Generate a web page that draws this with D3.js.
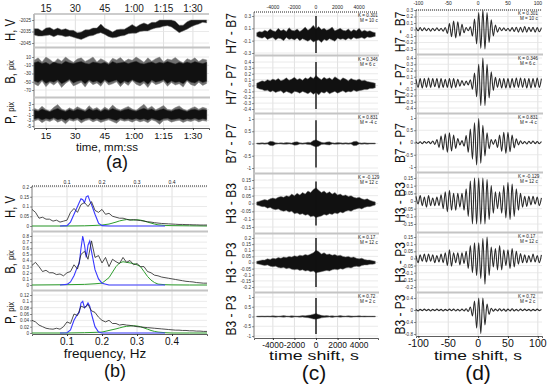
<!DOCTYPE html>
<html>
<head>
<meta charset="utf-8">
<script src="https://cdn.jsdelivr.net/npm/d3@7/dist/d3.min.js"></script>
<style>
  body { margin: 0; background: #fff; }
  svg { font-family: "Liberation Sans", Arial, sans-serif; }
</style>
</head>
<body>
<svg id="fig" width="550" height="386"></svg>
<script>
// ---------- (a) time series, envelopes read every 2 s ----------
var aTime = [9,11,13,15,17,19,21,23,25,27,29,31,33,35,37,39,41,43,45,47,49,51,53,55,57,59,61,63,65,67,69,71,73,75,77,79,81,83,85,87,89,91,93,95,97];
var hHi = [-2032.5,-2032.5,-2034.5,-2032,-2031.5,-2033.5,-2032,-2033.5,-2032.5,-2034,-2034,-2036,-2035.5,-2033.5,-2033.5,-2032,-2032,-2028.5,-2032,-2033.5,-2035.5,-2033.5,-2033,-2033,-2031,-2029,-2031,-2029,-2027.5,-2029,-2027,-2027,-2025,-2024.5,-2024,-2024.5,-2026,-2029.5,-2029.5,-2026.5,-2025,-2024,-2022,-2022,-2021];
var hLo = [-2038,-2039,-2039,-2038.5,-2038,-2039.5,-2038,-2038.5,-2039.5,-2039,-2040,-2041,-2042,-2040.5,-2039,-2038.5,-2037,-2036,-2037.5,-2039.5,-2040.5,-2040,-2039,-2038.5,-2037,-2036.5,-2036.5,-2035,-2034.5,-2034.5,-2033,-2032,-2031.5,-2030.5,-2030,-2031,-2033.5,-2036,-2034.5,-2033,-2031,-2029.5,-2028.5,-2027,-2027.5];
var bHi = [2,8,-2,10,4,-4,6,0,12,3,-3,5,8,-1,4,10,-2,6,1,-5,7,3,9,-1,5,2,12,4,-3,8,0,6,10,-2,5,3,9,1,-4,6,2,8,-1,5,3];
var bLo = [-55,-60,-48,-62,-52,-58,-50,-64,-54,-47,-60,-56,-51,-63,-49,-57,-53,-61,-48,-58,-55,-50,-62,-52,-59,-47,-56,-60,-53,-64,-50,-57,-54,-49,-61,-52,-58,-55,-63,-48,-57,-60,-51,-59,-54];
var bCoreHi = [-4,-1,-6,-3,-8,-2,-5,-7,0,-4,-6,-3,-1,-5,-7,-2,-4,-6,-3,-8,-1,-5,-4,-2,-6,-3,0,-5,-7,-4,-2,-6,-3,-5,-1,-4,-7,-3,-6,-2,-5,-1,-4,-6,-3];
var bCoreLo = [-48,-52,-45,-54,-49,-51,-46,-55,-50,-44,-53,-49,-47,-55,-46,-51,-48,-54,-45,-52,-49,-46,-55,-48,-52,-45,-50,-53,-48,-56,-46,-51,-49,-45,-54,-48,-52,-50,-55,-46,-51,-53,-47,-52,-49];
var pHi = [1.5,0.8,2.2,1,0.5,1.8,2.8,1.2,0.6,1.6,0.9,2,1.3,0.7,2.4,1.1,1.7,0.6,1.9,1,2.6,1.4,0.8,1.5,2.1,1.2,0.7,1.8,2.9,1.3,2.2,0.9,1.6,2.5,1.1,0.8,1.7,2.3,1.2,0.6,1.5,2,1.1,1.8,1.4];
var pLo = [-3.2,-2.6,-3.8,-2.9,-3.4,-2.5,-3.6,-3,-4.2,-2.8,-3.3,-2.7,-3.9,-3.1,-2.6,-3.5,-2.9,-3.7,-3.2,-2.7,-3.4,-4,-2.8,-3.3,-3,-3.6,-2.9,-3.5,-3.1,-3.8,-2.7,-3.3,-4.4,-3,-2.8,-3.6,-3.2,-2.9,-3.7,-3.1,-3.4,-2.8,-3.5,-3,-3.3];
var pCoreHi = [0.8,0.4,1.2,0.6,0.2,0.9,1.4,0.7,0.3,1,0.5,1.1,0.8,0.3,1.3,0.6,1,0.3,1.1,0.6,1.4,0.8,0.4,0.9,1.2,0.7,0.4,1,1.5,0.8,1.2,0.5,0.9,1.3,0.6,0.4,1,1.2,0.7,0.3,0.9,1.1,0.6,1,0.8];
var pCoreLo = [-2.5,-2.1,-2.8,-2.3,-2.6,-2,-2.7,-2.4,-3,-2.2,-2.6,-2.1,-2.9,-2.4,-2.1,-2.7,-2.3,-2.8,-2.5,-2.2,-2.6,-3,-2.2,-2.6,-2.4,-2.7,-2.3,-2.7,-2.4,-2.9,-2.2,-2.6,-3.1,-2.4,-2.2,-2.7,-2.5,-2.3,-2.8,-2.4,-2.6,-2.2,-2.7,-2.4,-2.6];
var aTickVals = [15,30,45,60,75,90];
var aTickLabels = ["15","30","45","1:00","1:15","1:30"];
var aTicksH = [-2025,-2035,-2045];
var aTicksB = [10,-10,-30,-50,-70];
var aTicksP = [3,1,-1,-3,-5];

// ---------- (b) spectra ----------
var fGrid = [0,0.01,0.02,0.03,0.04,0.05,0.06,0.07,0.08,0.09,0.1,0.11,0.12,0.13,0.14,0.15,0.16,0.17,0.18,0.19,0.2,0.21,0.22,0.23,0.24,0.25,0.26,0.27,0.28,0.29,0.3,0.31,0.32,0.33,0.34,0.35,0.36,0.37,0.38,0.39,0.4,0.41,0.42,0.43,0.44,0.45,0.46,0.47,0.48,0.49,0.5];
var specH = [0.085,0.07,0.04,0.045,0.035,0.035,0.025,0.03,0.02,0.025,0.03,0.07,0.09,0.07,0.11,0.12,0.1,0.125,0.08,0.07,0.085,0.06,0.065,0.05,0.045,0.04,0.04,0.035,0.03,0.033,0.03,0.028,0.025,0.022,0.02,0.017,0.015,0.013,0.012,0.011,0.01,0.009,0.008,0.008,0.007,0.007,0.006,0.006,0.005,0.005,0.005];
var specB = [0.32,0.37,0.3,0.22,0.24,0.2,0.2,0.17,0.18,0.15,0.2,0.22,0.33,0.26,0.5,0.55,0.42,0.72,0.45,0.48,0.36,0.45,0.3,0.42,0.38,0.35,0.45,0.37,0.4,0.33,0.35,0.3,0.3,0.22,0.2,0.16,0.15,0.13,0.12,0.11,0.1,0.09,0.08,0.07,0.06,0.055,0.05,0.04,0.035,0.03,0.03];
var specP = [0.04,0.035,0.025,0.02,0.015,0.013,0.012,0.015,0.012,0.02,0.035,0.03,0.06,0.055,0.085,0.08,0.09,0.07,0.065,0.05,0.04,0.035,0.04,0.03,0.03,0.025,0.027,0.025,0.024,0.022,0.02,0.019,0.018,0.017,0.016,0.015,0.014,0.013,0.012,0.011,0.01,0.009,0.009,0.008,0.008,0.007,0.007,0.006,0.006,0.005,0.005];
var fBlue = [0.08,0.1,0.11,0.12,0.13,0.135,0.14,0.145,0.15,0.155,0.16,0.165,0.17,0.18,0.19,0.2,0.22,0.3,0.38];
var blueH = [0,0.002,0.02,0.06,0.1,0.12,0.14,0.135,0.12,0.15,0.155,0.13,0.11,0.06,0.015,0.002,0,0,0];
var blueB = [0,0.01,0.05,0.15,0.3,0.35,0.6,0.8,0.65,0.45,0.65,0.72,0.55,0.25,0.1,0.03,0,0,0];
var blueP = [0,0.001,0.01,0.04,0.06,0.065,0.095,0.1,0.08,0.085,0.095,0.085,0.06,0.02,0.003,0,0,0,0];
var fGreen = [0,0.1,0.15,0.18,0.2,0.22,0.24,0.25,0.26,0.27,0.28,0.29,0.3,0.31,0.32,0.33,0.34,0.35,0.36,0.38,0.4,0.45,0.5];
var greenH = [0,0,0.001,0.003,0.005,0.01,0.02,0.026,0.03,0.033,0.032,0.03,0.032,0.03,0.026,0.02,0.015,0.01,0.006,0.003,0.002,0.001,0];
var greenB = [0,0.005,0.01,0.02,0.03,0.12,0.3,0.36,0.38,0.37,0.36,0.35,0.33,0.3,0.22,0.14,0.08,0.04,0.015,0.005,0.002,0,0];
var greenP = [0,0,0.001,0.002,0.003,0.008,0.013,0.016,0.019,0.021,0.022,0.023,0.022,0.02,0.016,0.012,0.008,0.005,0.003,0.001,0,0,0];
var bTickVals = [0.1,0.2,0.3,0.4];
var bTicksH = [0,0.05,0.1,0.15,0.2];
var bTicksB = [0,0.1,0.2,0.3,0.4,0.5,0.6,0.7,0.8];
var bTicksP = [0,0.02,0.04,0.06,0.08,0.1,0.12];

// ---------- (c) long-lag cross-correlations, envelopes every 250 s ----------
var cTime = [-5500,-5250,-5000,-4750,-4500,-4250,-4000,-3750,-3500,-3250,-3000,-2750,-2500,-2250,-2000,-1750,-1500,-1250,-1000,-750,-500,-250,0,250,500,750,1000,1250,1500,1750,2000,2250,2500,2750,3000,3250,3500,3750,4000,4250,4500,4750,5000,5250,5500];
var c1Hi = [0.03,0.05,0.04,0.07,0.05,0.09,0.06,0.05,0.1,0.06,0.08,0.05,0.11,0.07,0.06,0.09,0.05,0.08,0.12,0.07,0.1,0.15,0.09,0.13,0.08,0.1,0.07,0.09,0.12,0.06,0.08,0.1,0.07,0.06,0.09,0.05,0.08,0.06,0.1,0.05,0.07,0.05,0.06,0.04,0.03];
var c1Lo = [-0.03,-0.05,-0.06,-0.04,-0.08,-0.06,-0.05,-0.09,-0.06,-0.07,-0.1,-0.05,-0.08,-0.07,-0.09,-0.06,-0.1,-0.07,-0.09,-0.11,-0.08,-0.12,-0.1,-0.09,-0.13,-0.08,-0.1,-0.07,-0.09,-0.11,-0.06,-0.08,-0.07,-0.09,-0.06,-0.08,-0.05,-0.07,-0.06,-0.05,-0.07,-0.04,-0.05,-0.04,-0.03];
var c2Hi = [0.04,0.06,0.08,0.07,0.1,0.08,0.11,0.09,0.12,0.08,0.1,0.13,0.09,0.11,0.14,0.1,0.12,0.09,0.13,0.11,0.15,0.12,0.17,0.13,0.1,0.14,0.11,0.13,0.1,0.15,0.12,0.09,0.13,0.11,0.08,0.12,0.1,0.09,0.11,0.08,0.09,0.07,0.06,0.05,0.04];
var c2Lo = [-0.04,-0.06,-0.07,-0.09,-0.08,-0.11,-0.09,-0.12,-0.1,-0.09,-0.13,-0.1,-0.12,-0.14,-0.1,-0.11,-0.13,-0.1,-0.12,-0.14,-0.11,-0.15,-0.12,-0.16,-0.11,-0.13,-0.1,-0.14,-0.12,-0.1,-0.13,-0.11,-0.09,-0.12,-0.1,-0.11,-0.08,-0.1,-0.09,-0.08,-0.07,-0.07,-0.05,-0.05,-0.04];
var c3Hi = [0.02,0.02,0.03,0.02,0.03,0.09,0.08,0.03,0.02,0.03,0.02,0.04,0.03,0.02,0.06,0.07,0.03,0.02,0.03,0.05,0.04,0.12,0.15,0.1,0.05,0.03,0.06,0.07,0.03,0.02,0.04,0.03,0.02,0.03,0.02,0.03,0.08,0.09,0.03,0.02,0.03,0.02,0.02,0.02,0.02];
var c3Lo = [-0.02,-0.03,-0.02,-0.03,-0.02,-0.08,-0.09,-0.03,-0.02,-0.02,-0.03,-0.03,-0.02,-0.03,-0.07,-0.06,-0.02,-0.03,-0.02,-0.04,-0.05,-0.1,-0.14,-0.11,-0.04,-0.03,-0.05,-0.06,-0.02,-0.03,-0.03,-0.02,-0.03,-0.02,-0.03,-0.02,-0.09,-0.08,-0.02,-0.03,-0.02,-0.03,-0.02,-0.02,-0.02];
var c4Hi = [0.01,0.015,0.02,0.025,0.02,0.03,0.035,0.03,0.04,0.045,0.04,0.05,0.045,0.06,0.05,0.065,0.055,0.07,0.06,0.08,0.07,0.09,0.1,0.085,0.07,0.08,0.065,0.075,0.06,0.07,0.055,0.06,0.05,0.055,0.045,0.05,0.04,0.035,0.04,0.03,0.025,0.03,0.02,0.015,0.01];
var c4Lo = [-0.01,-0.015,-0.02,-0.02,-0.03,-0.025,-0.035,-0.04,-0.035,-0.045,-0.05,-0.045,-0.055,-0.05,-0.065,-0.06,-0.07,-0.065,-0.075,-0.07,-0.085,-0.08,-0.09,-0.085,-0.08,-0.07,-0.075,-0.065,-0.07,-0.06,-0.065,-0.055,-0.06,-0.05,-0.045,-0.05,-0.04,-0.035,-0.03,-0.035,-0.025,-0.02,-0.02,-0.015,-0.01];
var c5Hi = [0.01,0.015,0.02,0.02,0.03,0.025,0.035,0.03,0.04,0.035,0.045,0.04,0.05,0.045,0.055,0.05,0.06,0.055,0.065,0.06,0.07,0.08,0.1,0.09,0.07,0.08,0.065,0.07,0.06,0.065,0.055,0.06,0.05,0.045,0.05,0.04,0.045,0.035,0.03,0.035,0.025,0.02,0.02,0.015,0.01];
var c5Lo = [-0.01,-0.015,-0.02,-0.025,-0.02,-0.03,-0.035,-0.03,-0.04,-0.045,-0.04,-0.05,-0.045,-0.055,-0.06,-0.055,-0.065,-0.06,-0.07,-0.065,-0.075,-0.07,-0.085,-0.08,-0.075,-0.07,-0.065,-0.07,-0.06,-0.055,-0.06,-0.05,-0.055,-0.045,-0.04,-0.045,-0.035,-0.03,-0.035,-0.025,-0.02,-0.02,-0.015,-0.015,-0.01];
var c6Hi = [0.02,0.02,0.03,0.02,0.03,0.02,0.04,0.03,0.02,0.03,0.05,0.03,0.02,0.04,0.03,0.02,0.03,0.05,0.04,0.06,0.08,0.12,0.15,0.1,0.06,0.04,0.05,0.03,0.04,0.02,0.03,0.05,0.03,0.02,0.04,0.03,0.02,0.03,0.04,0.02,0.03,0.02,0.02,0.02,0.02];
var c6Lo = [-0.02,-0.03,-0.02,-0.03,-0.02,-0.03,-0.03,-0.04,-0.02,-0.03,-0.04,-0.02,-0.03,-0.05,-0.02,-0.03,-0.04,-0.03,-0.05,-0.06,-0.09,-0.13,-0.14,-0.11,-0.07,-0.05,-0.04,-0.03,-0.05,-0.03,-0.02,-0.04,-0.03,-0.02,-0.03,-0.04,-0.03,-0.02,-0.03,-0.02,-0.03,-0.02,-0.02,-0.02,-0.02];
var cPeakHi = [0.4,0.42,0.95,0.14,0.2,0.95];   // zero-lag spike
var cPeakLo = [-0.32,-0.41,-0.98,-0.14,-0.2,-0.9];
var cTickVals = [-4000,-2000,0,2000,4000];

// ---------- (d) short-lag cross-correlations, extremes every half period ----------
var dTime = [-104,-100.5,-97,-93.5,-90,-86.5,-83,-79.5,-76,-72.5,-69,-65.5,-62,-58.5,-55,-51.5,-48,-44.5,-41,-37.5,-34,-30.5,-27,-23.5,-20,-16.5,-13,-9.5,-6,-2.5,1,4.5,8,11.5,15,18.5,22,25.5,29,32.5,36,39.5,43,46.5,50,53.5,57,60.5,64,67.5,71,74.5,78,81.5,85,88.5,92,95.5,99,102.5,106];
var d1 = [0.03,-0.02,0.03,-0.02,0.025,-0.02,0.02,-0.025,0.02,-0.02,0.025,-0.02,0.02,-0.025,0.03,-0.06,0.09,-0.11,0.13,-0.13,0.12,-0.1,0.08,-0.05,0.03,-0.02,0.04,-0.1,0.16,-0.22,0.26,-0.29,0.3,-0.3,0.26,-0.2,0.15,-0.1,0.07,-0.04,0.03,-0.02,0.025,-0.02,0.02,-0.025,0.03,-0.03,0.035,-0.04,0.035,-0.04,0.045,-0.04,0.035,-0.03,0.035,-0.04,0.03,-0.035,0.03];
var d2 = [0.06,-0.07,0.07,-0.08,0.07,-0.07,0.08,-0.07,0.07,-0.06,0.07,-0.08,0.07,-0.07,0.06,-0.07,0.07,-0.08,0.07,-0.07,0.06,-0.05,0.04,-0.04,0.03,-0.03,0.05,-0.1,0.16,-0.22,0.3,-0.36,0.4,-0.36,0.3,-0.24,0.18,-0.12,0.09,-0.07,0.07,-0.08,0.07,-0.08,0.07,-0.08,0.07,-0.07,0.08,-0.07,0.08,-0.07,0.07,-0.08,0.07,-0.08,0.07,-0.07,0.08,-0.07,0.07];
var d3v = [0.03,-0.04,0.03,-0.05,0.04,-0.03,0.04,-0.05,0.06,-0.08,0.12,-0.2,0.26,-0.3,0.36,-0.4,0.4,-0.35,0.3,-0.24,0.16,-0.1,0.08,-0.15,0.28,-0.4,0.55,-0.68,0.8,-0.92,0.98,-0.85,0.7,-0.55,0.4,-0.25,0.12,-0.08,0.12,-0.2,0.3,-0.36,0.42,-0.45,0.42,-0.38,0.3,-0.22,0.15,-0.1,0.07,-0.05,0.04,-0.06,0.05,-0.04,0.06,-0.05,0.04,-0.05,0.04];
var d4 = [0.03,-0.02,0.035,-0.03,0.025,-0.04,0.035,-0.03,0.02,-0.03,0.025,-0.03,0.04,-0.05,0.06,-0.07,0.07,-0.06,0.05,-0.06,0.05,-0.04,0.05,-0.06,0.08,-0.1,0.13,-0.15,0.16,-0.16,0.15,-0.16,0.17,-0.16,0.14,-0.12,0.1,-0.08,0.06,-0.05,0.06,-0.08,0.1,-0.11,0.12,-0.12,0.11,-0.1,0.08,-0.06,0.05,-0.04,0.03,-0.035,0.03,-0.025,0.03,-0.02,0.025,-0.03,0.02];
var d5 = [0.02,-0.03,0.025,-0.02,0.03,-0.025,0.03,-0.02,0.025,-0.03,0.02,-0.025,0.03,-0.03,0.04,-0.05,0.06,-0.055,0.04,-0.03,0.04,-0.045,0.04,-0.035,0.05,-0.07,0.09,-0.1,0.11,-0.12,0.11,-0.14,0.14,-0.18,0.15,-0.12,0.08,-0.06,0.07,-0.08,0.09,-0.08,0.06,-0.05,0.06,-0.07,0.07,-0.06,0.05,-0.04,0.035,-0.03,0.025,-0.03,0.02,-0.025,0.03,-0.025,0.02,-0.03,0.025];
var d6 = [0.02,-0.03,0.02,-0.02,0.03,-0.02,0.02,-0.03,0.02,-0.02,0.03,-0.02,0.02,-0.03,0.02,-0.02,0.03,-0.02,0.03,-0.03,0.02,-0.03,0.03,-0.03,0.04,-0.05,0.1,-0.2,0.3,-0.6,0.46,-0.78,0.42,-0.5,0.2,-0.15,0.06,-0.04,0.03,-0.03,0.04,-0.03,0.03,-0.04,0.03,-0.03,0.04,-0.03,0.02,-0.03,0.03,-0.02,0.03,-0.02,0.02,-0.03,0.02,-0.02,0.03,-0.02,0.02];
var dTickVals = [-100,-50,0,50,100];

var pairNames = ["H7 - B7","H7 - P7","B7 - P7","H3 - B3","H3 - P3","B3 - P3"];
var kVals = ["0.301","0.346","0.831","-0.129","0.17","0.72"];
var mVals = ["10","6","-4","12","12","2"];
var corrTicks = [
  [0.3,0.1,-0.1,-0.3],
  [0.4,0.3,0.2,0.1,0,-0.1,-0.2,-0.3,-0.4],
  [1,0.5,0,-0.5,-1],
  [0.15,0.1,0.05,0,-0.05,-0.1,-0.15],
  [0.2,0.15,0.1,0.05,0,-0.05,-0.1,-0.15,-0.2],
  [1,0.5,0,-0.5,-1]
];
var dTicks = [
  [0.3,0.2,0.1,0,-0.1,-0.2,-0.3],
  [0.4,0.3,0.2,0.1,0,-0.1,-0.2,-0.3,-0.4],
  [1,0.5,0,-0.5,-1],
  [0.15,0.1,0.05,0,-0.05,-0.1,-0.15],
  [0.15,0.1,0.05,0,-0.05,-0.1,-0.15,-0.2],
  [0.4,0,-0.4,-0.8]
];

// ---------- drawing ----------
var svg = d3.select("#fig");

var xA = d3.scaleLinear().domain([8.9, 98.2]).range([34, 209]);
var xB = d3.scaleLinear().domain([0, 0.5]).range([32, 207]);
var xC = d3.scaleLinear().domain([-5750, 5750]).range([254, 378]);
var xD = d3.scaleLinear().domain([-104, 107]).range([416, 542]);

function panel(x, xTicks, top, bottom, yDom, yRng, yTicks) {
  var y = d3.scaleLinear().domain(yDom).range(yRng).clamp(true);
  var x0 = x.range()[0], x1 = x.range()[1];
  var g = svg.append("g");
  g.selectAll(".vg").data(xTicks).enter().append("line")
    .attr("x1", d => x(d)).attr("x2", d => x(d))
    .attr("y1", top).attr("y2", bottom)
    .attr("stroke", "#d8d8d8").attr("stroke-width", 0.8);
  g.selectAll(".hg").data(yTicks).enter().append("line")
    .attr("x1", x0).attr("x2", x1)
    .attr("y1", d => y(d)).attr("y2", d => y(d))
    .attr("stroke", "#e4e4e4").attr("stroke-width", 0.8);
  var ax = g.append("g").attr("transform", "translate(" + x0 + ",0)")
    .call(d3.axisLeft(y).tickValues(yTicks).tickSize(2).tickPadding(1).tickFormat(d => String(d)));
  ax.select(".domain").remove();
  ax.selectAll("text").attr("font-size", 4.6).attr("fill", "#333").attr("font-family", null);
  ax.selectAll("line").attr("stroke", "#444").attr("stroke-width", 0.6);
  g.append("line").attr("x1", x0).attr("x2", x0).attr("y1", top).attr("y2", bottom)
    .attr("stroke", "#444").attr("stroke-width", 0.7);
  return y;
}

function separator(x, yy) {
  svg.append("line").attr("x1", x.range()[0] - 1).attr("x2", x.range()[1] + 1)
    .attr("y1", yy).attr("y2", yy).attr("stroke", "#c4c4c4").attr("stroke-width", 2);
}

function band(x, y, t, lo, hi, fill, edge) {
  var pts = t.map((d, i) => ({ t: d, lo: lo[i], hi: hi[i] }));
  svg.append("path").datum(pts)
    .attr("d", d3.area().x(d => x(d.t)).y0(d => y(d.lo)).y1(d => y(d.hi)))
    .attr("fill", fill).attr("stroke", edge).attr("stroke-width", 0.5);
}

function trace(x, y, t, v, color, w, curve) {
  var pts = t.map((d, i) => ({ t: d, v: v[i] }));
  svg.append("path").datum(pts)
    .attr("d", d3.line().x(d => x(d.t)).y(d => y(d.v)).curve(curve || d3.curveLinear))
    .attr("fill", "none").attr("stroke", color).attr("stroke-width", w);
}

function sideLabel(cx, cy, main, sub, size, squeeze) {
  var t = svg.append("text")
    .attr("transform", "translate(" + cx + "," + cy + ") rotate(-90) scale(" + squeeze + ",1)")
    .attr("text-anchor", "middle").attr("dominant-baseline", "central")
    .attr("font-size", size).attr("fill", "#111");
  t.append("tspan").text(main);
  if (sub) t.append("tspan").attr("font-size", size * 0.68).text(sub);
}

function topAxis(x, yy, vals, labelY, size, dotted) {
  svg.append("line").attr("x1", x.range()[0]).attr("x2", x.range()[1])
    .attr("y1", yy).attr("y2", yy)
    .attr("stroke", dotted ? "#222" : "#bbb").attr("stroke-width", dotted ? 1 : 1.5)
    .attr("stroke-dasharray", dotted ? "1,1" : null);
  svg.append("g").selectAll("text").data(vals).enter().append("text")
    .attr("x", d => x(d.v)).attr("y", labelY).attr("text-anchor", "middle")
    .attr("font-size", size).attr("fill", "#222").text(d => d.l);
}

function bottomAxis(x, yy, vals, labelY, size) {
  var ax = svg.append("g").attr("transform", "translate(0," + yy + ")")
    .call(d3.axisBottom(x).tickValues(vals.map(d => d.v)).tickSize(2).tickFormat(""));
  ax.select(".domain").attr("stroke", "#333").attr("stroke-width", 0.8);
  ax.selectAll("line").attr("stroke", "#333");
  svg.append("g").selectAll("text").data(vals).enter().append("text")
    .attr("x", d => x(d.v)).attr("y", labelY).attr("text-anchor", "middle")
    .attr("font-size", size).attr("fill", "#111").text(d => d.l);
}

function caption(cx, by, txt, size, len) {
  var t = svg.append("text").attr("x", cx).attr("y", by).attr("text-anchor", "middle")
    .attr("font-size", size).attr("fill", "#111").text(txt);
  if (len) t.attr("textLength", len).attr("lengthAdjust", "spacingAndGlyphs");
}

// ----- column (a) -----
var aLab = aTickVals.map((v, i) => ({ v: v, l: aTickLabels[i] }));
var yAH = panel(xA, aTickVals, 14, 47, [-2045, -2025], [43, 20], aTicksH);
var yAB = panel(xA, aTickVals, 48, 97, [-70, 10], [90, 57], aTicksB);
var yAP = panel(xA, aTickVals, 98, 128, [-5, 3], [126, 104], aTicksP);
band(xA, yAH, aTime, hLo, hHi, "#151515", "#777");
band(xA, yAB, aTime, bLo, bHi, "#707070", "#888");
band(xA, yAB, aTime, bCoreLo, bCoreHi, "#111", "#333");
band(xA, yAP, aTime, pLo, pHi, "#707070", "#888");
band(xA, yAP, aTime, pCoreLo, pCoreHi, "#111", "#333");
separator(xA, 47.5); separator(xA, 97.5);
topAxis(xA, 14, aLab, 12, 10, false);
bottomAxis(xA, 128, aLab, 139, 9.5);
sideLabel(11, 30, "H, V", null, 14, 0.8);
sideLabel(11, 72, "B, ", "pix", 14, 0.8);
sideLabel(11, 113, "P, ", "pix", 14, 0.8);
caption(107, 151, "time, mm:ss", 11.5);
caption(117, 168, "(a)", 18);

// ----- column (b) -----
var bLab = bTickVals.map(v => ({ v: v, l: String(v) }));
var yBH = panel(xB, bTickVals, 186, 231, [0, 0.2], [226, 187], bTicksH);
var yBB = panel(xB, bTickVals, 232, 290, [0, 0.8], [285, 236], bTicksB);
var yBP = panel(xB, bTickVals, 291, 334, [0, 0.12], [333, 295], bTicksP);
[[yBH, specH, blueH, greenH], [yBB, specB, blueB, greenB], [yBP, specP, blueP, greenP]].forEach(function (s) {
  trace(xB, s[0], fGreen, s[3], "#2e9e2e", 1);
  trace(xB, s[0], fBlue, s[2], "#3a3aff", 1.1);
  trace(xB, s[0], fGrid, s[1], "#222", 0.8);
});
separator(xB, 231.5); separator(xB, 290.5);
topAxis(xB, 186, bLab, 184, 5, true);
bottomAxis(xB, 334, bLab, 345, 10);
sideLabel(11, 207, "H, V", null, 14, 0.8);
sideLabel(11, 262, "B, ", "pix", 14, 0.8);
sideLabel(11, 313, "P, ", "pix", 14, 0.8);
caption(105, 358, "frequency, Hz", 13.5);
caption(115, 377, "(b)", 18);

// ----- column (c) -----
var cLayout = [
  { top: 12, bottom: 55, dom: [-0.3, 0.3], rng: [53, 16] },
  { top: 56, bottom: 113, dom: [-0.4, 0.4], rng: [109, 62] },
  { top: 114, bottom: 173, dom: [-1, 1], rng: [168, 119] },
  { top: 174, bottom: 233, dom: [-0.15, 0.15], rng: [227, 180] },
  { top: 234, bottom: 292, dom: [-0.2, 0.2], rng: [287, 238] },
  { top: 293, bottom: 338, dom: [-1, 1], rng: [336, 297] }
];
var cHi = [c1Hi, c2Hi, c3Hi, c4Hi, c5Hi, c6Hi];
var cLo = [c1Lo, c2Lo, c3Lo, c4Lo, c5Lo, c6Lo];
cLayout.forEach(function (L, i) {
  var y = panel(xC, cTickVals, L.top, L.bottom, L.dom, L.rng, corrTicks[i]);
  band(xC, y, cTime, cLo[i], cHi[i], "#111", "#777");
  svg.append("line").attr("x1", xC(0)).attr("x2", xC(0))
    .attr("y1", y(cPeakLo[i])).attr("y2", y(cPeakHi[i]))
    .attr("stroke", "#111").attr("stroke-width", 1.4);
  svg.append("text").attr("x", 358).attr("y", L.top + 5).attr("font-size", 4.6).attr("fill", "#222").text("K = " + kVals[i]);
  svg.append("text").attr("x", 360).attr("y", L.top + 10).attr("font-size", 4.6).attr("fill", "#222").text("M = " + mVals[i] + " c");
  if (i > 0) separator(xC, L.top - 0.5);
  sideLabel(230, (L.top + L.bottom) / 2, pairNames[i], null, 15, 0.8);
});
var cLab = cTickVals.map(v => ({ v: v, l: String(v) }));
topAxis(xC, 12, cLab, 9, 5, true);
bottomAxis(xC, 338, cLab, 347.5, 8.4);
caption(314, 360, "time shift, s", 13, 90);
caption(314, 380, "(c)", 21);

// ----- column (d) -----
var dLayout = [
  { top: 10, bottom: 54, dom: [-0.3, 0.3], rng: [49, 10] },
  { top: 55, bottom: 113, dom: [-0.4, 0.4], rng: [108, 58] },
  { top: 114, bottom: 172, dom: [-1, 1], rng: [167, 118] },
  { top: 173, bottom: 232, dom: [-0.15, 0.15], rng: [224, 178] },
  { top: 233, bottom: 292, dom: [-0.2, 0.15], rng: [287, 237] },
  { top: 293, bottom: 336, dom: [-0.8, 0.4], rng: [334, 298] }
];
var dVals = [d1, d2, d3v, d4, d5, d6];
dLayout.forEach(function (L, i) {
  var y = panel(xD, dTickVals, L.top, L.bottom, L.dom, L.rng, dTicks[i]);
  trace(xD, y, dTime, dVals[i], "#2a2a2a", 1.1, d3.curveCatmullRom);
  svg.append("text").attr("x", 518).attr("y", L.top + 5).attr("font-size", 4.6).attr("fill", "#222").text("K = " + kVals[i]);
  svg.append("text").attr("x", 520).attr("y", L.top + 10).attr("font-size", 4.6).attr("fill", "#222").text("M = " + mVals[i] + " c");
  if (i > 0) separator(xD, L.top - 0.5);
  sideLabel(399, (L.top + L.bottom) / 2, pairNames[i], null, 15, 0.8);
});
var dLab = dTickVals.map(v => ({ v: v, l: String(v) }));
topAxis(xD, 10, dLab, 5, 5, true);
bottomAxis(xD, 336, dLab, 346.5, 10.5);
caption(478, 360, "time shift, s", 13, 88);
caption(478, 380, "(d)", 21);
</script>
</body>
</html>
